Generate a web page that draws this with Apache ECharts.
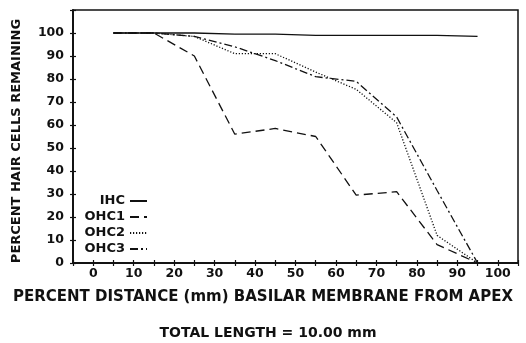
<!DOCTYPE html>
<html>
<head>
<meta charset="utf-8">
<title>Hair cells remaining</title>
<script src="https://cdn.jsdelivr.net/npm/echarts@6/dist/echarts.min.js"></script>
<style>
  html, body { margin: 0; padding: 0; background: #fff; }
  #chart { width: 526px; height: 343px; }
</style>
</head>
<body>
<div id="chart"></div>
<script>
// percent distance from apex (x), sampled at mid-bins
const distance = [5, 15, 25, 35, 45, 55, 65, 75, 85, 95]

// percent hair cells remaining per cell type
const ihc  = [100, 100, 100, 99.5, 99.5, 99, 99, 99, 99, 98.5]
const ohc1 = [100, 100, 90, 56, 58.5, 55, 29.5, 31, 8, 0]
const ohc2 = [100, 100, 98.5, 91, 91, 83, 75.5, 61, 12, 0]
const ohc3 = [100, 100, 98.5, 94, 88, 81, 79, 63.5, 31.5, 0]

const seriesNames = ['IHC', 'OHC1', 'OHC2', 'OHC3']
const xTickLabels = [0, 10, 20, 30, 40, 50, 60, 70, 80, 90, 100]
const yTickLabels = [0, 10, 20, 30, 40, 50, 60, 70, 80, 90, 100]

const ink = '#111'
const font = '"DejaVu Sans", Verdana, sans-serif'

const pair = (ys) => distance.map((x, i) => [x, ys[i]])

function lineSeries(name, ys, type) {
  return {
    name: name,
    type: 'line',
    data: pair(ys),
    symbol: 'none',
    animation: false,
    lineStyle: { color: ink, width: 1.3, type: type },
    itemStyle: { color: ink }
  }
}

const chart = echarts.init(document.getElementById('chart'), null, { renderer: 'canvas' })

const axisLine = { show: true, onZero: false, lineStyle: { color: ink, width: 1.5 } }
const xBase = {
  type: 'value', min: -5, max: 105, interval: 5,
  axisLine: axisLine, splitLine: { show: false }
}
const yBase = {
  type: 'value', min: 0, max: 110, interval: 10,
  axisLine: axisLine, splitLine: { show: false }
}
const tickStyle = { color: ink, width: 1.2 }

chart.setOption({
  backgroundColor: '#fff',
  animation: false,
  grid: {
    left: 73, right: 8, top: 10, bottom: 80,
    show: true, borderColor: ink, borderWidth: 1.5
  },
  xAxis: [
    Object.assign({}, xBase, {
      position: 'bottom',
      axisTick: { show: true, length: 3, lineStyle: tickStyle },
      axisLabel: {
        color: ink, fontSize: 12.5, fontWeight: 'bold', fontFamily: font, margin: 4,
        formatter: v => (xTickLabels.includes(v) ? String(v) : '')
      }
    }),
    Object.assign({}, xBase, {
      position: 'bottom',
      axisTick: { show: true, inside: true, length: 3, lineStyle: tickStyle },
      axisLabel: { show: false }
    })
  ],
  yAxis: [
    Object.assign({}, yBase, {
      position: 'left',
      axisTick: { show: true, length: 3, lineStyle: tickStyle },
      axisLabel: {
        color: ink, fontSize: 12.5, fontWeight: 'bold', fontFamily: font, margin: 9,
        formatter: v => (yTickLabels.includes(v) ? String(v) : '')
      }
    }),
    Object.assign({}, yBase, {
      position: 'left',
      axisTick: { show: true, inside: true, length: 3, lineStyle: tickStyle },
      axisLabel: { show: false }
    })
  ],
  legend: {
    orient: 'vertical',
    align: 'right',
    left: 74, top: 189,
    itemWidth: 17, itemHeight: 10, itemGap: 2,
    data: seriesNames,
    itemStyle: { opacity: 0 },
    textStyle: {
      color: ink, fontSize: 13, fontWeight: 'bold', fontFamily: font,
      width: 46, align: 'right', lineHeight: 14
    }
  },
  series: [
    lineSeries('IHC', ihc, 'solid'),
    lineSeries('OHC1', ohc1, [9, 5]),
    lineSeries('OHC2', ohc2, [1.2, 1.8]),
    lineSeries('OHC3', ohc3, [8, 3, 2, 3])
  ],
  graphic: [
    {
      type: 'text', x: 17, y: 141, rotation: Math.PI / 2,
      style: {
        text: 'PERCENT HAIR CELLS REMAINING', fill: ink,
        font: 'bold 13px ' + font, align: 'center', verticalAlign: 'middle'
      }
    },
    {
      type: 'text', x: 263, y: 297,
      style: {
        text: 'PERCENT DISTANCE (mm) BASILAR MEMBRANE FROM APEX', fill: ink,
        font: 'bold 15px ' + font, align: 'center', verticalAlign: 'middle'
      }
    },
    {
      type: 'text', x: 268, y: 333,
      style: {
        text: 'TOTAL LENGTH = 10.00 mm', fill: ink,
        font: 'bold 14px ' + font, align: 'center', verticalAlign: 'middle'
      }
    }
  ]
})
</script>
</body>
</html>
